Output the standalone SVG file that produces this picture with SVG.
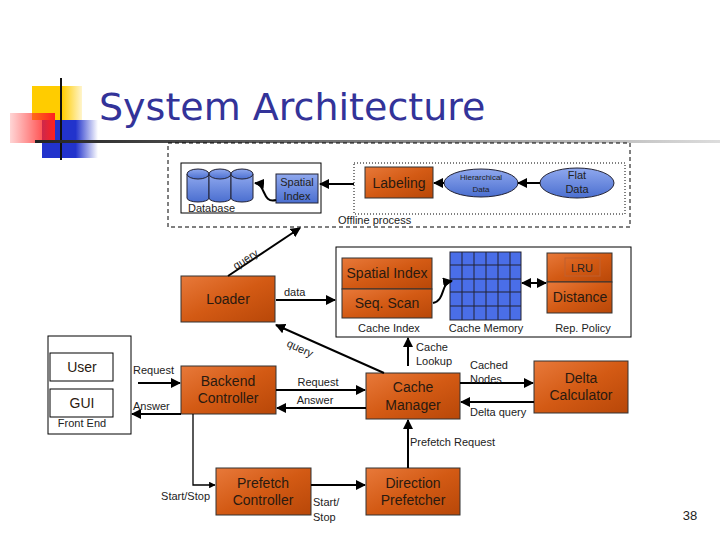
<svg xmlns="http://www.w3.org/2000/svg" width="720" height="540" viewBox="0 0 720 540">
<defs>
<linearGradient id="og" x1="0" y1="0" x2="1" y2="1"><stop offset="0" stop-color="#e8793a"/><stop offset="0.5" stop-color="#d35a14"/><stop offset="1" stop-color="#b84708"/></linearGradient>
<linearGradient id="bg" x1="0" y1="0" x2="0" y2="1"><stop offset="0" stop-color="#8fa8ee"/><stop offset="1" stop-color="#4b6fd0"/></linearGradient>
<linearGradient id="ln" x1="0" y1="0" x2="1" y2="0"><stop offset="0" stop-color="#222"/><stop offset="1" stop-color="#ddd"/></linearGradient>
<linearGradient id="rg" x1="0" y1="0" x2="1" y2="0"><stop offset="0" stop-color="#ff3030" stop-opacity="0.2"/><stop offset="1" stop-color="#ff2020"/></linearGradient>
<linearGradient id="blg" x1="0" y1="0" x2="1" y2="0"><stop offset="0.6" stop-color="#2233cc"/><stop offset="1" stop-color="#2233cc" stop-opacity="0"/></linearGradient>
<linearGradient id="yg" x1="0" y1="0" x2="1" y2="0"><stop offset="0.6" stop-color="#ffcc00"/><stop offset="1" stop-color="#ffcc00" stop-opacity="0.2"/></linearGradient>
<marker id="ar" viewBox="0 0 10 10" refX="9" refY="5" markerWidth="5" markerHeight="5" orient="auto-start-reverse"><path d="M0,0 L10,5 L0,10 z" fill="#000"/></marker>
</defs>
<style>
text{font-family:"Liberation Sans",Arial,sans-serif;fill:#222}
.o{fill:url(#og);stroke:#333;stroke-width:1}
.b{fill:url(#bg);stroke:#223;stroke-width:1}
.w{fill:#fff;stroke:#000;stroke-width:1}
.n{font-size:14px;text-anchor:middle;fill:#2a1a10}
.s{font-size:11px}
.c{stroke:#000;stroke-width:2;fill:none;marker-end:url(#ar)}
.c1{stroke:#000;stroke-width:1.3;fill:none;marker-end:url(#ar)}
</style>
<rect width="720" height="540" fill="#fff"/>
<g id="title">
<rect x="32" y="86" width="50" height="34" fill="url(#yg)"/>
<rect x="42" y="120" width="56" height="38" fill="url(#blg)"/>
<rect x="10" y="113" width="45" height="30" fill="url(#rg)"/>
<line x1="61" y1="78" x2="61" y2="160" stroke="#111" stroke-width="2"/>
<rect x="35" y="140" width="685" height="3" fill="url(#ln)"/>
<text x="99" y="120" font-size="38" style="fill:#333399;font-family:'DejaVu Sans',sans-serif">System Architecture</text>
</g>
<g id="offline">
<rect x="168" y="143" width="462" height="84" fill="none" stroke="#000" stroke-dasharray="4,3"/>
<text x="338" y="224" class="s">Offline process</text>
</g>
<g id="database">
<rect x="181" y="163" width="140" height="50" class="w"/>
<g class="b">
<path d="M187,174 v24 a11,4 0 0 0 22,0 v-24"/><ellipse cx="198" cy="174" rx="11" ry="5"/>
<path d="M209,174 v24 a11,4 0 0 0 22,0 v-24"/><ellipse cx="220" cy="174" rx="11" ry="5"/>
<path d="M231,174 v24 a11,4 0 0 0 22,0 v-24"/><ellipse cx="242" cy="174" rx="11" ry="5"/>
</g>
<text x="188" y="212" class="s">Database</text>
</g>
<g id="spatialindex1"><rect x="276" y="174" width="42" height="29" class="b"/><text x="297" y="186" class="s" text-anchor="middle">Spatial</text><text x="297" y="200" class="s" text-anchor="middle">Index</text></g>
<rect x="354" y="163" width="271" height="51" fill="none" stroke="#000" stroke-dasharray="1,2"/>
<g id="labeling"><rect x="365" y="167" width="68" height="31" class="o"/><text x="399" y="188" class="n">Labeling</text></g>
<g id="hier"><ellipse cx="481" cy="183" rx="37" ry="14" class="b"/><text x="481" y="180" font-size="8" text-anchor="middle">Hierarchical</text><text x="481" y="192" font-size="8" text-anchor="middle">Data</text></g>
<g id="flat"><ellipse cx="577" cy="183" rx="37" ry="15" class="b"/><text x="577" y="179" font-size="11" text-anchor="middle">Flat</text><text x="577" y="193" font-size="11" text-anchor="middle">Data</text></g>
<g id="cachebox">
<rect x="336" y="247" width="295" height="90" class="w"/>
<rect x="342" y="258" width="90" height="31" class="o"/><text x="387" y="278" class="n">Spatial Index</text>
<rect x="342" y="289" width="90" height="29" class="o"/><text x="387" y="308" class="n">Seq. Scan</text>
<rect x="450" y="252" width="71" height="68" fill="#4a6ee8" stroke="#223"/>
<g stroke="#223" stroke-width="1"><line x1="462" y1="252" x2="462" y2="320"/><line x1="474" y1="252" x2="474" y2="320"/><line x1="486" y1="252" x2="486" y2="320"/><line x1="498" y1="252" x2="498" y2="320"/><line x1="510" y1="252" x2="510" y2="320"/><line x1="450" y1="265" x2="521" y2="265"/><line x1="450" y1="279" x2="521" y2="279"/><line x1="450" y1="292" x2="521" y2="292"/><line x1="450" y1="306" x2="521" y2="306"/></g>
<rect x="547" y="253" width="65" height="29" class="o"/><rect x="565" y="258" width="35" height="18" fill="none" stroke="#c06030"/><text x="582" y="272" class="s" text-anchor="middle" font-size="12">LRU</text>
<rect x="547" y="282" width="65" height="31" class="o"/><text x="580" y="302" class="n" font-size="13">Distance</text>
<text x="389" y="332" class="s" text-anchor="middle">Cache Index</text><text x="486" y="332" class="s" text-anchor="middle">Cache Memory</text><text x="583" y="332" class="s" text-anchor="middle">Rep. Policy</text>
</g>
<g id="loader"><rect x="181" y="276" width="94" height="46" class="o"/><text x="228" y="304" class="n">Loader</text></g>
<g id="frontend">
<rect x="48" y="336" width="83" height="98" class="w"/>
<rect x="50" y="353" width="63" height="28" class="w"/><text x="82" y="372" class="n" font-size="13">User</text>
<rect x="50" y="389" width="63" height="28" class="w"/><text x="82" y="408" class="n" font-size="13">GUI</text>
<text x="82" y="427" class="s" text-anchor="middle">Front End</text>
</g>
<g id="backend"><rect x="181" y="366" width="95" height="48" class="o"/><text x="228" y="386" class="n">Backend</text><text x="228" y="403" class="n">Controller</text></g>
<g id="cachemanager"><rect x="366" y="373" width="94" height="46" class="o"/><text x="413" y="392" class="n">Cache</text><text x="413" y="410" class="n">Manager</text></g>
<g id="delta"><rect x="534" y="361" width="94" height="52" class="o"/><text x="581" y="383" class="n">Delta</text><text x="581" y="400" class="n">Calculator</text></g>
<g id="prefetch"><rect x="216" y="468" width="95" height="47" class="o"/><text x="263" y="488" class="n">Prefetch</text><text x="263" y="505" class="n">Controller</text></g>
<g id="direction"><rect x="366" y="468" width="94" height="47" class="o"/><text x="413" y="488" class="n">Direction</text><text x="413" y="505" class="n">Prefetcher</text></g>
<g id="connectors">
<line x1="540" y1="183" x2="518" y2="183" class="c"/>
<line x1="444" y1="183" x2="434" y2="183" class="c"/>
<line x1="354" y1="184" x2="320" y2="184" class="c"/>
<path d="M276,200 C262,204 266,184 255,183" class="c"/>
<line x1="228" y1="276" x2="300" y2="228" class="c"/>
<text transform="translate(236,270) rotate(-33)" class="s">query</text>
<line x1="276" y1="300" x2="335" y2="300" class="c"/>
<text x="284" y="296" class="s">data</text>
<path d="M433,303 C446,300 440,283 452,281" class="c"/>
<line x1="522" y1="283" x2="546" y2="283" class="c" marker-start="url(#ar)"/>
<line x1="384" y1="373" x2="276" y2="325" class="c"/>
<text transform="translate(286,346) rotate(25)" class="s">query</text>
<line x1="408" y1="366" x2="408" y2="338" class="c"/>
<text x="432" y="351" class="s" text-anchor="middle">Cache</text><text x="434" y="365" class="s" text-anchor="middle">Lookup</text>
<line x1="138" y1="383" x2="180" y2="383" class="c"/>
<text x="133" y="374" class="s">Request</text>
<line x1="181" y1="414" x2="132" y2="414" class="c"/>
<text x="133" y="410" class="s">Answer</text>
<line x1="276" y1="390" x2="365" y2="390" class="c"/>
<text x="318" y="386" class="s" text-anchor="middle">Request</text>
<line x1="366" y1="408" x2="277" y2="408" class="c"/>
<text x="315" y="404" class="s" text-anchor="middle">Answer</text>
<line x1="460" y1="383" x2="533" y2="383" class="c"/>
<text x="470" y="369" class="s">Cached</text><text x="470" y="383" class="s">Nodes</text>
<line x1="534" y1="402" x2="461" y2="402" class="c"/>
<text x="470" y="416" class="s">Delta query</text>
<line x1="408" y1="468" x2="408" y2="420" class="c"/>
<text x="410" y="446" class="s">Prefetch Request</text>
<polyline points="193,414 193,485 215,485" class="c1"/>
<text x="210" y="500" class="s" text-anchor="end">Start/Stop</text>
<line x1="311" y1="485" x2="365" y2="485" class="c"/>
<text x="313" y="506" class="s">Start/</text><text x="313" y="521" class="s">Stop</text>
</g>
<text x="690" y="520" font-size="13" text-anchor="middle">38</text>
</svg>
